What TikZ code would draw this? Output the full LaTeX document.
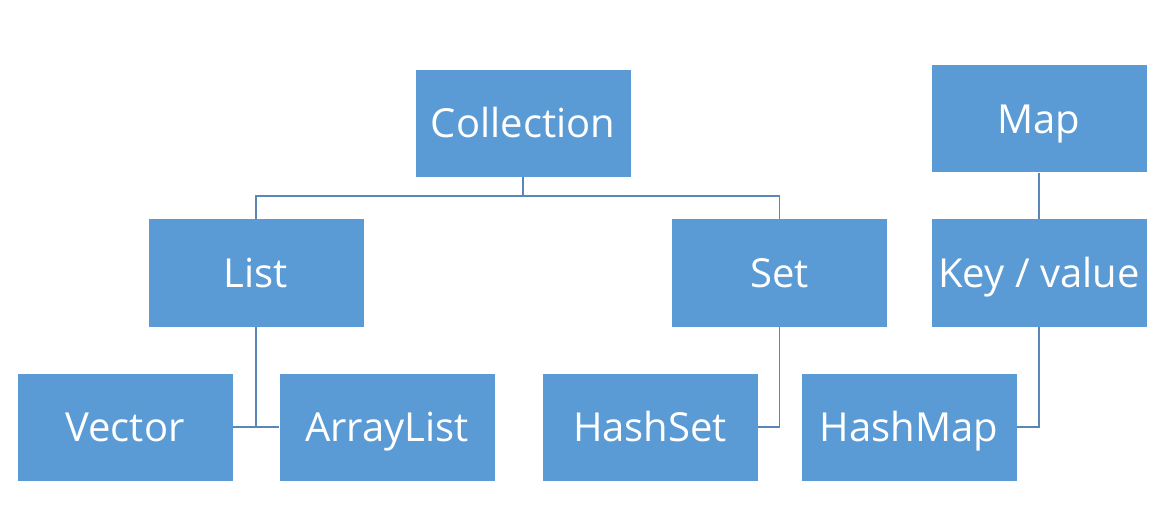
\documentclass[tikz,border=0pt]{standalone}
\usepackage{fontspec}
\setmainfont{Open Sans}
\definecolor{boxblue}{HTML}{5B9BD5}
\definecolor{lineblue}{HTML}{5A86B8}
\begin{document}
\begin{tikzpicture}[x=1pt,y=-1pt,
  box/.style={fill=boxblue, draw=none, minimum width=215pt, minimum height=107pt,
    inner sep=0pt, text=white, font=\fontsize{40}{40}\selectfont,
    text height=29pt, text depth=0pt},
  conn/.style={draw=lineblue, line width=1.1pt}]
\useasboundingbox (0,0) rectangle (1168,505);
\node[box] (coll) at (523,123.5) {Collection};
\node[box] (map) at (1039,119) {Map};
\node[box] (list) at (256,273) {List};
\node[box] (set) at (779.5,273) {Set};
\node[box] (key) at (1039,273) {Key / value};
\node[box] (vec) at (125,427) {Vector};
\node[box] (arr) at (387,427) {ArrayList};
\node[box] (hset) at (650,427) {HashSet};
\node[box] (hmap) at (909,427) {HashMap};
\coordinate (bus) at (523,196);
\draw[conn] (coll.south) -- (bus);
\draw[conn] (list.north) |- (bus) -| (set.north);
\draw[conn] (list.south) -- (list.south |- vec.east);
\draw[conn] (vec.east) -- (arr.west);
\draw[conn] (set.south) |- (hset.east);
\draw[conn] (map.south) -- (key.north);
\draw[conn] (key.south) |- (hmap.east);
\end{tikzpicture}
\end{document}
